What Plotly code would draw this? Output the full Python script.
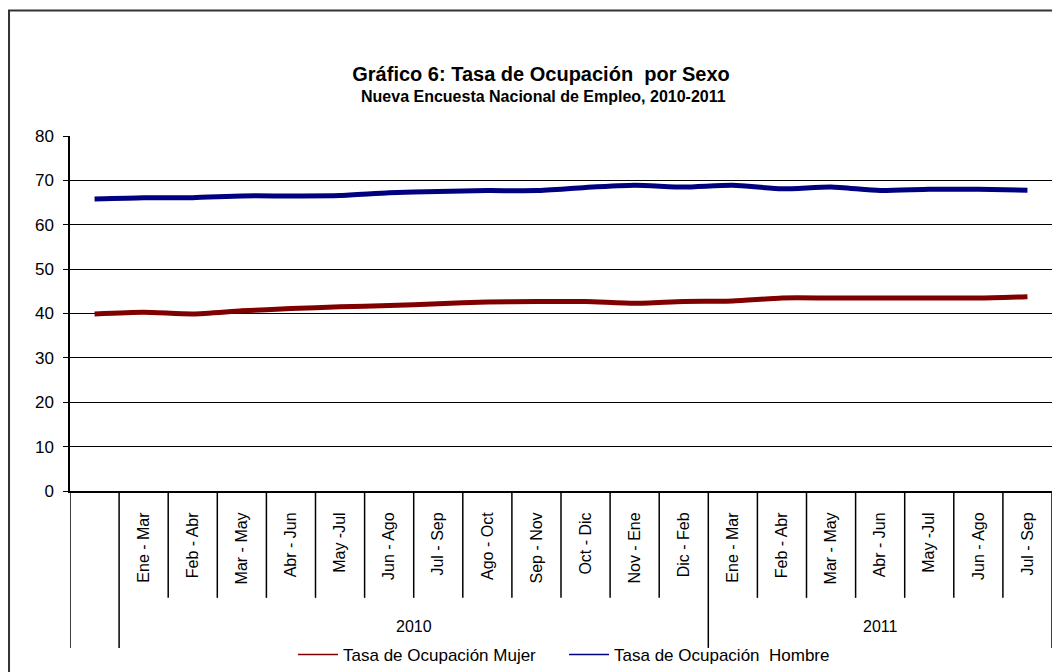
import plotly.graph_objects as go

# ---- data ----
months = ["", "Ene - Mar", "Feb - Abr", "Mar - May", "Abr - Jun", "May -Jul", "Jun - Ago",
          "Jul - Sep", "Ago - Oct", "Sep - Nov", "Oct - Dic", "Nov - Ene", "Dic - Feb",
          "Ene - Mar", "Feb - Abr", "Mar - May", "Abr - Jun", "May -Jul", "Jun - Ago", "Jul - Sep"]
years = [""] + ["2010"] * 12 + ["2011"] * 7
mujer = [39.9, 40.3, 39.9, 40.6, 41.1, 41.5, 41.8, 42.2, 42.6, 42.7,
         42.7, 42.3, 42.7, 42.8, 43.5, 43.5, 43.5, 43.5, 43.5, 43.8]
hombre = [65.8, 66.1, 66.1, 66.5, 66.5, 66.6, 67.2, 67.5, 67.7, 67.7,
          68.4, 68.9, 68.5, 68.9, 68.1, 68.5, 67.7, 68.0, 68.0, 67.8]
y_ticks = [0, 10, 20, 30, 40, 50, 60, 70, 80]
series_names = ["Tasa de Ocupación Mujer", "Tasa de Ocupación  Hombre"]
series_colors = ["#800000", "#000080"]

FONT = "Arial, Liberation Sans, sans-serif"
xs = list(range(len(months)))

fig = go.Figure()
for vals, name, col in zip([mujer, hombre], series_names, series_colors):
    fig.add_trace(go.Scatter(x=xs, y=vals, mode="lines", name=name, showlegend=False,
                             legendgroup=name,
                             line=dict(color=col, width=5, shape="spline", smoothing=0.6)))
# legend entries with thin line samples
for name, col in zip(series_names, series_colors):
    fig.add_trace(go.Scatter(x=[None], y=[None], mode="lines", name=name, legendgroup=name,
                             line=dict(color=col, width=1.5)))

shapes = []
# category boundaries (short) and group dividers (long)
for i in range(len(months) + 1):
    xb = i - 0.5
    prev_y = years[i - 1] if i > 0 else None
    next_y = years[i] if i < len(years) else None
    long_div = (prev_y != next_y)
    shapes.append(dict(type="line", xref="x", yref="paper", x0=xb, x1=xb,
                       y0=0, y1=(-0.442 if long_div else -0.301),
                       line=dict(color="black", width=1.5)))
# outer frame
shapes.append(dict(type="rect", xref="paper", yref="paper", x0=-0.0621, x1=1.2,
                   y0=-1.0, y1=1.3535, line=dict(color="#333333", width=2)))

annotations = []
for yr in ["2010", "2011"]:
    idx = [i for i, v in enumerate(years) if v == yr]
    annotations.append(dict(x=(idx[0] + idx[-1]) / 2, y=-0.383, xref="x", yref="paper",
                            text=yr, showarrow=False, font=dict(size=16, color="black", family=FONT),
                            xanchor="center", yanchor="middle"))
annotations.append(dict(x=0.4817, y=1.110, xref="paper", yref="paper",
                        text="<b>Nueva Encuesta Nacional de Empleo, 2010-2011</b>",
                        showarrow=False, font=dict(size=16, color="black", family=FONT),
                        xanchor="center", yanchor="middle"))

fig.update_layout(
    width=1052, height=664,
    margin=dict(l=62, r=8, t=128, b=181),
    paper_bgcolor="white", plot_bgcolor="white",
    font=dict(family=FONT, color="black"),
    title=dict(text="<b>Gráfico 6: Tasa de Ocupación  por Sexo</b>", x=0.5067, xanchor="center",
               y=1 - 66 / 664, yanchor="middle", font=dict(size=20, color="black", family=FONT)),
    showlegend=True,
    legend=dict(orientation="h", x=(293 - 70) / 982, xanchor="left", xref="paper",
                y=1 - 647 / 664, yanchor="middle", yref="container",
                itemwidth=40, entrywidth=216, entrywidthmode="pixels",
                font=dict(size=17, color="black", family=FONT), bgcolor="rgba(0,0,0,0)"),
    shapes=shapes,
    annotations=annotations,
)
fig.update_xaxes(range=[-0.5, len(months) - 0.5], tickmode="array", tickvals=xs, ticktext=months,
                 tickangle=-90, ticks="", showgrid=False, zeroline=False,
                 showline=True, linecolor="black", linewidth=2,
                 tickfont=dict(size=16, color="black", family=FONT), ticklabelstandoff=13)
fig.update_yaxes(range=[0, 80], tickmode="array", tickvals=y_ticks, ticks="outside", ticklen=5,
                 tickcolor="black", showgrid=True, gridcolor="black", gridwidth=1.2,
                 zeroline=False, showline=True, linecolor="black", linewidth=1.5,
                 tickfont=dict(size=17, color="black", family=FONT), ticklabelstandoff=6)

fig.write_html("out.html")
